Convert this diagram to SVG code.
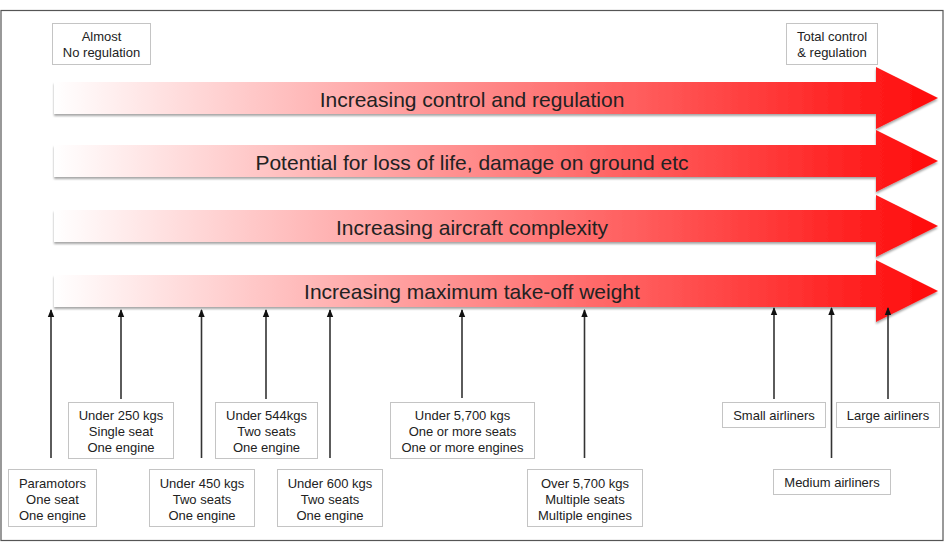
<svg xmlns="http://www.w3.org/2000/svg" width="945" height="548" viewBox="0 0 945 548">
<defs>
<linearGradient id="red" gradientUnits="userSpaceOnUse" x1="54" y1="0" x2="938" y2="0">
<stop offset="0" stop-color="#ffffff"/>
<stop offset="1" stop-color="#ff0a0a"/>
</linearGradient>
<filter id="sh" x="-5%" y="-20%" width="110%" height="150%">
<feDropShadow dx="0" dy="2" stdDeviation="1.2" flood-color="#000" flood-opacity="0.35"/>
</filter>
<marker id="ah" markerWidth="8" markerHeight="8" refX="7" refY="4" orient="auto" markerUnits="userSpaceOnUse">
<path d="M0,0.8 L8,4 L0,7.2 Z" fill="#111"/>
</marker>
<style>
.big{fill:url(#red);filter:url(#sh)}
.bt{font-family:"Liberation Sans",Arial,sans-serif;font-size:21px;fill:#222;text-anchor:middle}
.box{fill:#fff;stroke:#c4c4c4;stroke-width:1}
.lt{font-family:"Liberation Sans",Arial,sans-serif;font-size:13px;fill:#222;text-anchor:middle}
.con{stroke:#333;stroke-width:1.6;fill:none;marker-end:url(#ah)}
</style>
</defs>
<rect x="1" y="10.5" width="942" height="530" fill="#fff" stroke="#555" stroke-width="1.2"/>

<g id="arrow-control">
<path class="big" d="M54,82 H876 V67 L938,98 L876,129 V114 H54 Z"/>
<text class="bt" x="472" y="107">Increasing control and regulation</text>
</g>
<g id="arrow-loss">
<path class="big" d="M54,145 H876 V130 L938,161 L876,192 V177 H54 Z"/>
<text class="bt" x="472" y="170">Potential for loss of life, damage on ground etc</text>
</g>
<g id="arrow-complexity">
<path class="big" d="M54,210 H876 V195 L938,226 L876,257 V242 H54 Z"/>
<text class="bt" x="472" y="235">Increasing aircraft complexity</text>
</g>
<g id="arrow-weight">
<path class="big" d="M54,275 H876 V260 L938,291 L876,322 V307 H54 Z"/>
<text class="bt" x="472" y="299">Increasing maximum take-off weight</text>
</g>

<g id="almost">
<rect class="box" x="52.5" y="23.5" width="98" height="41"/>
<text class="lt" x="101.5" y="41">Almost</text>
<text class="lt" x="101.5" y="57">No regulation</text>
</g>
<g id="total">
<rect class="box" x="786.5" y="23.5" width="91" height="41"/>
<text class="lt" x="832" y="41">Total control</text>
<text class="lt" x="832" y="57">&amp; regulation</text>
</g>

<g id="connectors">
<line class="con" x1="51" y1="458" x2="51" y2="310"/>
<line class="con" x1="121" y1="399" x2="121" y2="310"/>
<line class="con" x1="201.5" y1="458" x2="201.5" y2="310"/>
<line class="con" x1="266" y1="399" x2="266" y2="310"/>
<line class="con" x1="330" y1="458" x2="330" y2="310"/>
<line class="con" x1="462" y1="398" x2="462" y2="310"/>
<line class="con" x1="584.5" y1="458" x2="584.5" y2="310"/>
<line class="con" x1="774" y1="399" x2="774" y2="308"/>
<line class="con" x1="831.5" y1="458" x2="831.5" y2="308"/>
<line class="con" x1="888" y1="399" x2="888" y2="308"/>
</g>

<g id="paramotors">
<rect class="box" x="8.5" y="469.5" width="88" height="57"/>
<text class="lt" x="52.5" y="488">Paramotors</text>
<text class="lt" x="52.5" y="504">One seat</text>
<text class="lt" x="52.5" y="520">One engine</text>
</g>
<g id="u250">
<rect class="box" x="68.5" y="402.5" width="105" height="56"/>
<text class="lt" x="121" y="420">Under 250 kgs</text>
<text class="lt" x="121" y="436">Single seat</text>
<text class="lt" x="121" y="452">One engine</text>
</g>
<g id="u450">
<rect class="box" x="149.5" y="469.5" width="105" height="57"/>
<text class="lt" x="202" y="488">Under 450 kgs</text>
<text class="lt" x="202" y="504">Two seats</text>
<text class="lt" x="202" y="520">One engine</text>
</g>
<g id="u544">
<rect class="box" x="215.5" y="402.5" width="102" height="56"/>
<text class="lt" x="266.5" y="420">Under 544kgs</text>
<text class="lt" x="266.5" y="436">Two seats</text>
<text class="lt" x="266.5" y="452">One engine</text>
</g>
<g id="u600">
<rect class="box" x="277.5" y="469.5" width="105" height="57"/>
<text class="lt" x="330" y="488">Under 600 kgs</text>
<text class="lt" x="330" y="504">Two seats</text>
<text class="lt" x="330" y="520">One engine</text>
</g>
<g id="u5700">
<rect class="box" x="390.5" y="402.5" width="144" height="56"/>
<text class="lt" x="462.5" y="420">Under 5,700 kgs</text>
<text class="lt" x="462.5" y="436">One or more seats</text>
<text class="lt" x="462.5" y="452">One or more engines</text>
</g>
<g id="o5700">
<rect class="box" x="527.5" y="469.5" width="115" height="57"/>
<text class="lt" x="585" y="488">Over 5,700 kgs</text>
<text class="lt" x="585" y="504">Multiple seats</text>
<text class="lt" x="585" y="520">Multiple engines</text>
</g>
<g id="small">
<rect class="box" x="722.5" y="402.5" width="103" height="25"/>
<text class="lt" x="774" y="420">Small airliners</text>
</g>
<g id="medium">
<rect class="box" x="773.5" y="469.5" width="117" height="25"/>
<text class="lt" x="832" y="487">Medium airliners</text>
</g>
<g id="large">
<rect class="box" x="836.5" y="402.5" width="103" height="25"/>
<text class="lt" x="888" y="420">Large airliners</text>
</g>
</svg>
